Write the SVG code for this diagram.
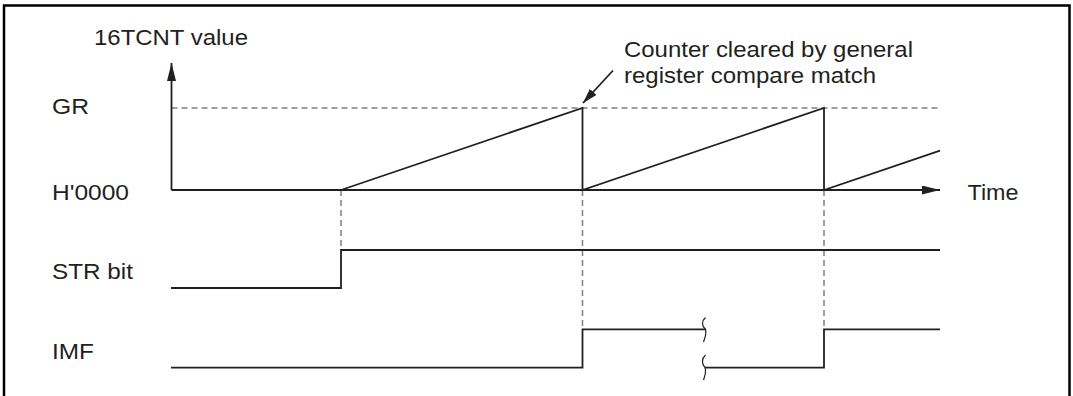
<svg xmlns="http://www.w3.org/2000/svg" width="1073" height="396" viewBox="0 0 1073 396">
<style>
  .t { font-family: "Liberation Sans", Arial, sans-serif; font-size: 22px; fill: #231f20; }
  .ln { fill: none; stroke: #231f20; stroke-width: 1.8; }
  .ds { fill: none; stroke: #808080; stroke-width: 1.5; stroke-dasharray: 6 4; }
  .br { fill: none; stroke: #231f20; stroke-width: 1.2; }
</style>
<defs>
  <marker id="big" viewBox="0 0 18 9" refX="18" refY="4.5" markerWidth="18" markerHeight="9" markerUnits="userSpaceOnUse" orient="auto">
    <path d="M0,0 L18,4.5 L0,9 Z" fill="#231f20"/>
  </marker>
  <marker id="ptr" viewBox="0 0 15 9" refX="15" refY="4.5" markerWidth="15" markerHeight="9" markerUnits="userSpaceOnUse" orient="auto">
    <path d="M0,0 L15,4.5 L0,9 Z" fill="#231f20"/>
  </marker>
</defs>
<rect x="4" y="5.5" width="1065.5" height="400" fill="#fff" stroke="#000" stroke-width="2.5"/>

<g id="labels">
  <text class="t" x="94" y="45" textLength="154" lengthAdjust="spacingAndGlyphs">16TCNT value</text>
  <text class="t" x="52" y="114" textLength="37" lengthAdjust="spacingAndGlyphs">GR</text>
  <text class="t" x="52" y="199.5" textLength="77" lengthAdjust="spacingAndGlyphs">H'0000</text>
  <text class="t" x="52" y="279" textLength="81" lengthAdjust="spacingAndGlyphs">STR bit</text>
  <text class="t" x="52" y="359" textLength="42" lengthAdjust="spacingAndGlyphs">IMF</text>
  <text class="t" x="967.5" y="199.5" textLength="51" lengthAdjust="spacingAndGlyphs">Time</text>
  <text class="t" x="624" y="57" textLength="289" lengthAdjust="spacingAndGlyphs">Counter cleared by general</text>
  <text class="t" x="624" y="83" textLength="252" lengthAdjust="spacingAndGlyphs">register compare match</text>
</g>

<g id="guides">
  <line class="ds" x1="171.5" y1="108" x2="940" y2="108"/>
  <line class="ds" x1="341" y1="190" x2="341" y2="250"/>
  <line class="ds" x1="582.5" y1="190" x2="582.5" y2="329"/>
  <line class="ds" x1="824" y1="190" x2="824" y2="329"/>
</g>

<g id="axes">
  <line class="ln" x1="171.5" y1="190" x2="171.5" y2="63" marker-end="url(#big)"/>
  <line class="ln" x1="171.5" y1="190" x2="940" y2="190" marker-end="url(#big)"/>
</g>

<g id="counter">
  <polyline class="ln" points="341,190 582.5,108 582.5,190 824,108 824,190 940,150.7"/>
</g>

<g id="connectors">
  <line class="ln" stroke-width="1.2" x1="613" y1="70.5" x2="583" y2="103" marker-end="url(#ptr)"/>
</g>

<g id="str">
  <polyline class="ln" points="171,288 341,288 341,250 940,250"/>
</g>

<g id="imf">
  <polyline class="ln" points="171,367.7 582.5,367.7 582.5,329.3 705.5,329.3"/>
  <polyline class="ln" points="705,367.7 824,367.7 824,329.3 940,329.3"/>
  <path class="br" d="M705.5,317.5 C701.5,321 701.5,326 705.5,329.3 C706.5,333 705,338 703.5,342"/>
  <path class="br" d="M705.5,355 C701.5,358.5 701.5,364 705,367.7 C706.5,371.5 705,376 703.5,380"/>
</g>
</svg>
